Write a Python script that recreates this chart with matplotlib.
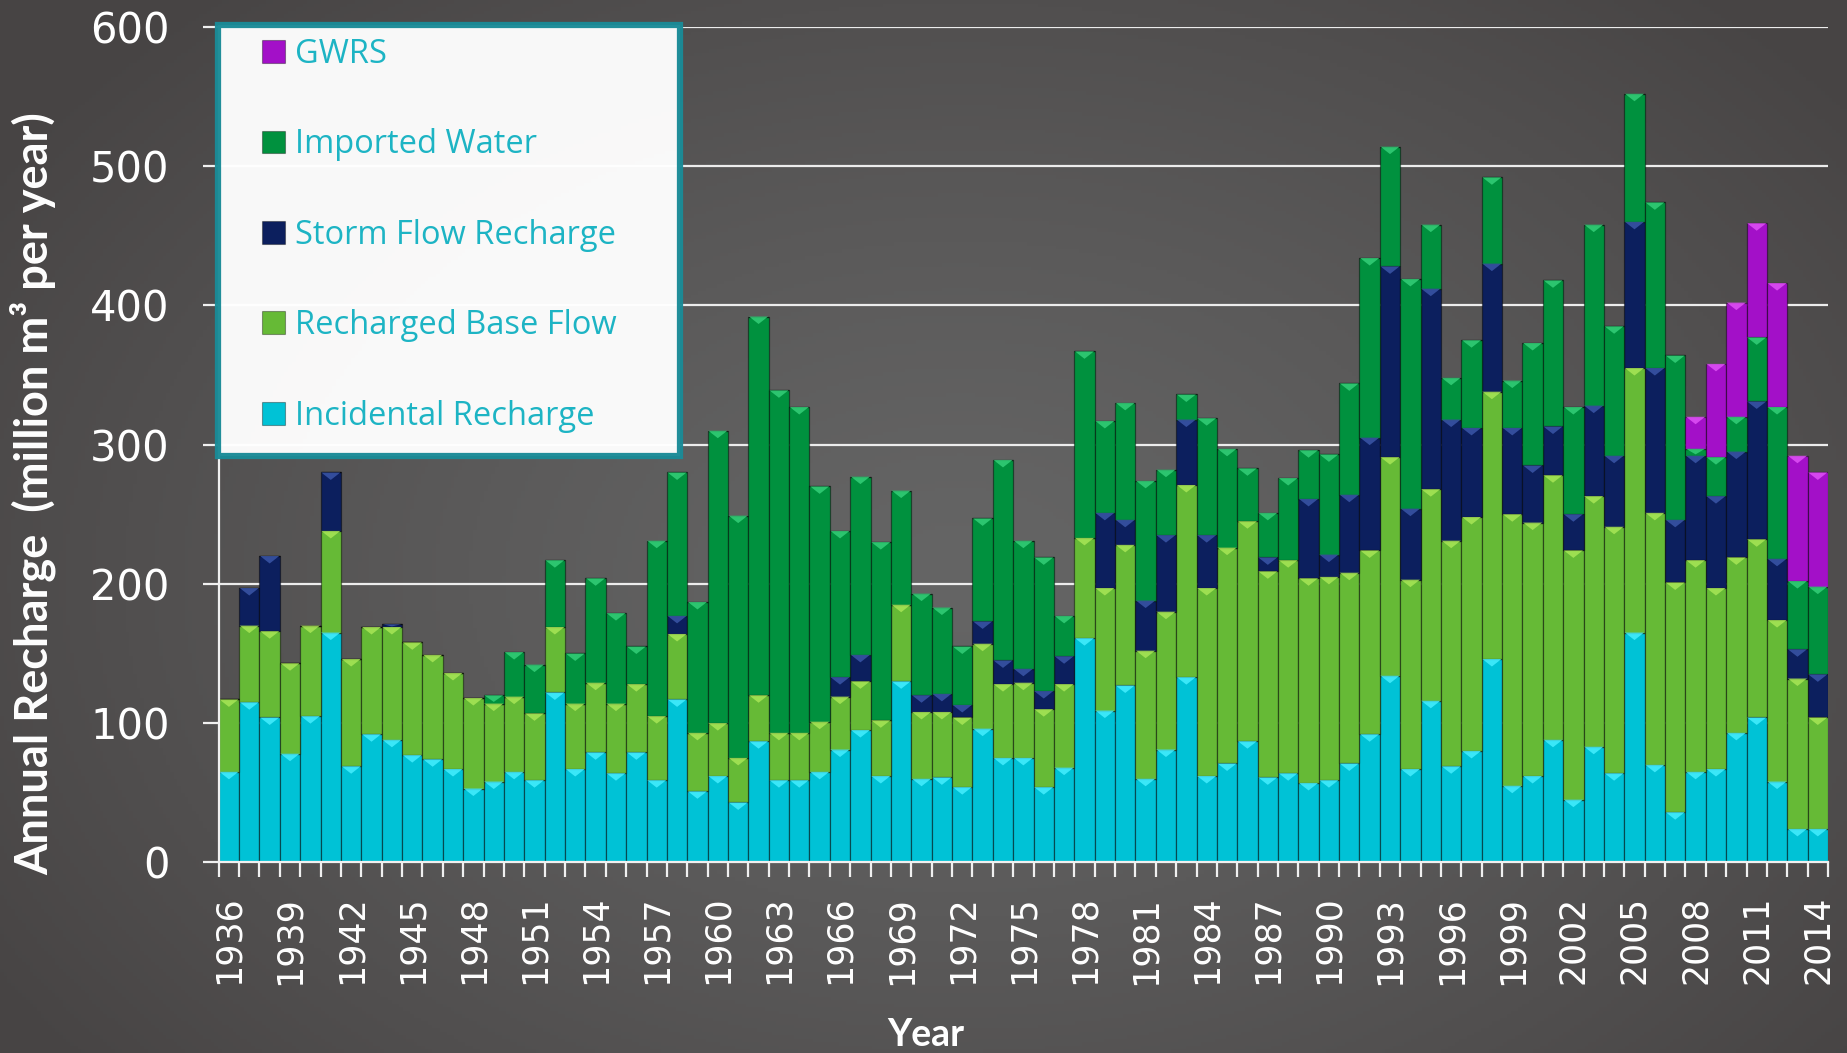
import numpy as np
import matplotlib
matplotlib.use("Agg")
import matplotlib.pyplot as plt
from matplotlib.patches import Patch, Rectangle
from matplotlib.collections import PolyCollection
from matplotlib.colors import to_rgb

# ---------------- data (million m3 per year) ----------------
years = list(range(1936, 2015))

incidental = [65, 115, 104, 78, 105, 165, 69, 92, 88, 77,
              74, 67, 53, 58, 65, 59, 122, 67, 79, 64,
              79, 59, 117, 51, 62, 43, 87, 59, 59, 65,
              81, 95, 62, 130, 60, 61, 54, 96, 75, 75,
              54, 68, 161, 109, 127, 60, 81, 133, 62, 71,
              87, 61, 64, 57, 59, 71, 92, 134, 67, 116,
              69, 80, 146, 55, 62, 88, 45, 83, 64, 165,
              70, 36, 65, 67, 93, 104, 58, 24, 24]

base_flow = [52, 55, 62, 65, 65, 73, 77, 77, 81, 81,
             75, 69, 65, 56, 54, 48, 47, 47, 50, 50,
             49, 46, 47, 42, 38, 32, 33, 34, 34, 36,
             38, 35, 40, 55, 48, 47, 50, 61, 53, 54,
             56, 60, 72, 88, 101, 92, 99, 138, 135, 155,
             158, 148, 153, 147, 146, 137, 132, 157, 136, 152,
             162, 168, 192, 195, 182, 190, 179, 180, 177, 190,
             181, 165, 152, 130, 126, 128, 116, 108, 80]

storm_flow = [0, 27, 54, 0, 0, 42, 0, 0, 2, 0,
              0, 0, 0, 0, 0, 0, 0, 0, 0, 0,
              0, 0, 13, 0, 0, 0, 0, 0, 0, 0,
              14, 19, 0, 0, 12, 13, 9, 16, 17, 10,
              13, 20, 0, 54, 18, 36, 55, 47, 38, 0,
              0, 10, 0, 57, 16, 56, 81, 137, 51, 144,
              87, 64, 92, 62, 41, 35, 26, 65, 51, 105,
              104, 45, 75, 66, 76, 99, 44, 21, 31]

imported = [0, 0, 0, 0, 0, 0, 0, 0, 0, 0,
            0, 0, 0, 6, 32, 35, 48, 36, 75, 65,
            27, 126, 103, 94, 210, 174, 272, 246, 234, 169,
            105, 128, 128, 82, 73, 62, 42, 74, 144, 92,
            96, 29, 134, 66, 84, 86, 47, 18, 84, 71,
            38, 32, 59, 35, 72, 80, 129, 86, 165, 46,
            30, 63, 62, 34, 88, 105, 77, 130, 93, 92,
            119, 118, 5, 28, 25, 46, 109, 49, 63]

gwrs = [0] * 72 + [23, 67, 82, 82, 89, 90, 82]

series_names = ["Incidental Recharge", "Recharged Base Flow",
                "Storm Flow Recharge", "Imported Water", "GWRS"]
series_values = [incidental, base_flow, storm_flow, imported, gwrs]
series_colors = ["#00c2d6", "#66ba36", "#0c1f5e", "#00913e", "#a310c8"]
series_highlights = ["#45eeff", "#a8e656", "#3a56a8", "#34cf78", "#e052f6"]

y_ticks = [0, 100, 200, 300, 400, 500, 600]
label_years = years[::3]

# ---------------- figure ----------------
W, H = 1847, 1053
fig = plt.figure(figsize=(W / 100, H / 100), dpi=100, facecolor="#4b4848")

# background radial gradient
bg = fig.add_axes([0, 0, 1, 1], zorder=-10)
yy, xx = np.mgrid[0:1:300j, 0:1:500j]
r = np.sqrt(((xx - 0.52) / 0.62) ** 2 + ((yy - 0.55) / 0.75) ** 2)
r = np.clip(r, 0, 1) ** 1.3
c_in = np.array(to_rgb("#656565"))
c_out = np.array(to_rgb("#474444"))
img = c_in[None, None, :] * (1 - r[..., None]) + c_out[None, None, :] * r[..., None]
bg.imshow(img, extent=[0, 1, 0, 1], aspect="auto", origin="upper")
bg.set_axis_off()

# plot area in pixels: x 218.75..1828, y 26.9..862.3
L, R, T, B = 218.75, 1828.0, 26.9, 862.3
ax = fig.add_axes([L / W, 1 - B / H, (R - L) / W, (B - T) / H])
ax.set_facecolor("none")

# bars
bottom = np.zeros(len(years))
px_per_unit = (B - T) / 600.0
bevel = 7.5 / px_per_unit
for name, vals, col, hi in zip(series_names, series_values, series_colors, series_highlights):
    v = np.array(vals, dtype=float)
    ax.bar(years, v, bottom=bottom, width=1.0, color=col,
           edgecolor=(0, 0, 0, 0.45), linewidth=0.9, zorder=3, label=name)
    polys = []
    for x, b0, h in zip(years, bottom, v):
        if h <= 0:
            continue
        d = min(bevel, 0.8 * h)
        top = b0 + h
        polys.append([(x - 0.47, top), (x + 0.47, top), (x, top - d)])
    ax.add_collection(PolyCollection(polys, facecolors=hi, edgecolors="none",
                                     alpha=0.85, zorder=4))
    bottom = bottom + v

ax.set_xlim(years[0] - 0.5, years[-1] + 0.5)
ax.set_ylim(y_ticks[0], y_ticks[-1])

# grid
ax.set_yticks(y_ticks)
ax.grid(axis="y", color="#ececec", linewidth=1.6, zorder=1)
ax.grid(axis="x", visible=False)
ax.set_axisbelow(True)

# spines
for s in ["top", "right"]:
    ax.spines[s].set_visible(False)
for s in ["left", "bottom"]:
    ax.spines[s].set_color("#f0f0f0")
    ax.spines[s].set_linewidth(1.6)
    ax.spines[s].set_zorder(6)

# ticks
ax.set_xticks(np.arange(years[0] - 0.5, years[-1] + 1.0, 1.0))
ax.set_xticklabels([])
ax.set_xticks(label_years, minor=True)
ax.set_xticklabels([str(y) for y in label_years], minor=True, rotation=90,
                   fontsize=25, color="white", family="DejaVu Sans", va="top")
ax.tick_params(axis="x", which="major", length=11, width=1.6, color="#f0f0f0", direction="out")
ax.tick_params(axis="x", which="minor", length=0, pad=24)
ax.tick_params(axis="y", length=11.5, width=1.6, color="#f0f0f0", direction="out",
               pad=24, labelsize=30, labelcolor="white")
ax.set_yticklabels([str(t) for t in y_ticks], family="DejaVu Sans")

# axis labels
ax.set_ylabel("Annual Recharge  (million m³ per year)", color="white",
              fontsize=32.5, fontweight="bold", family=["Lato", "DejaVu Sans"])
ax.yaxis.set_label_coords((33 - L) / (R - L), (B - 494) / (B - T))
ax.yaxis.label.set_va("center")
ax.yaxis.label.set_ha("center")

ax.set_xlabel("Year", color="white", fontsize=27, fontweight="bold",
              family=["Lato", "DejaVu Sans"])
ax.xaxis.set_label_coords((926 - L) / (R - L), (B - 1035) / (B - T))
ax.xaxis.label.set_va("center")

# legend box (white panel with teal frame)
fx0, fy0, fx1, fy1 = 218, 25, 680, 456
frame = Rectangle(((fx0 - L) / (R - L), (B - fy1) / (B - T)),
                  (fx1 - fx0) / (R - L), (fy1 - fy0) / (B - T),
                  transform=ax.transAxes, facecolor="white", edgecolor="#1a8b97",
                  linewidth=4.5, zorder=7, clip_on=False, alpha=0.97)
ax.add_patch(frame)

handles = [Patch(facecolor=c, edgecolor=(0, 0, 0, 0.35), linewidth=0.8)
           for c in series_colors][::-1]
labels = series_names[::-1]
leg = ax.legend(handles, labels, loc="upper left",
                bbox_to_anchor=((262 - L) / (R - L), (B - 38) / (B - T)),
                frameon=False, borderpad=0, borderaxespad=0,
                handlelength=0.7, handleheight=0.7, handletextpad=0.3,
                labelspacing=1.76, labelcolor="#1db4c4",
                prop={"family": ["Open Sans", "DejaVu Sans"], "size": 23.5})
leg.set_zorder(8)

fig.savefig("out.png", dpi=100, facecolor=fig.get_facecolor())
